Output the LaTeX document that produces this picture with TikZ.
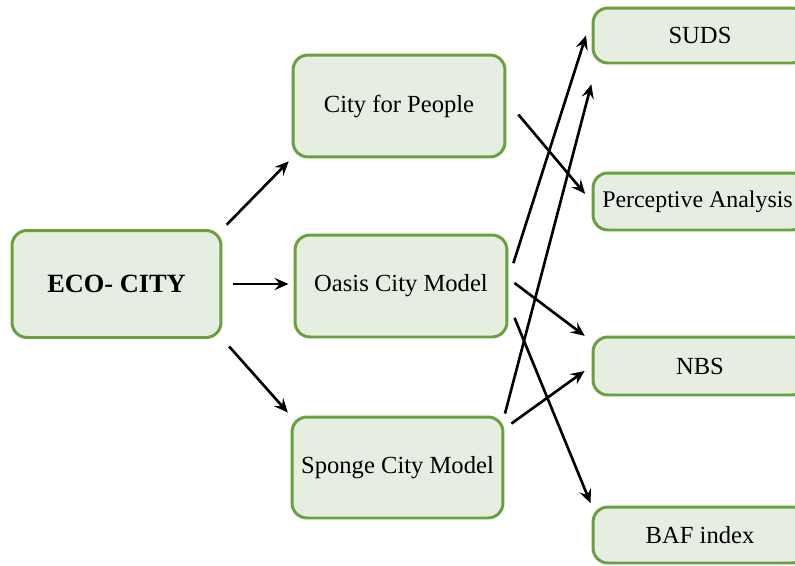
\documentclass[tikz,border=0pt]{standalone}
\usepackage{fontspec}
\setmainfont{Liberation Serif}
\usetikzlibrary{arrows.meta}

\definecolor{boxfill}{RGB}{229,238,225}
\definecolor{boxline}{RGB}{106,160,62}

\begin{document}
\begin{tikzpicture}[x=0.02cm, y=-0.02cm,
		cityBox/.style={draw=boxline, fill=boxfill, line width=1.7pt, rounded corners=0.3cm, font=\fontsize{14}{16}\selectfont},
		link/.style={-{Stealth[length=8pt,width=7pt,inset=3pt]}, line width=1.5pt}]

				\useasboundingbox (0, 0) rectangle (795, 565);
				\clip (0, 0) rectangle (795, 565);

				\node [cityBox, minimum width=4.18cm, minimum height=2.14cm, font=\fontsize{15}{17}\selectfont\bfseries] (eco) at (116.5, 284) {ECO- CITY};

				\node [cityBox, minimum width=4.24cm, minimum height=2.04cm] (people) at (399, 106) {City for People};
				\node [cityBox, minimum width=4.24cm, minimum height=2.04cm] (oasis) at (401, 286) {Oasis City Model};
				\node [cityBox, minimum width=4.22cm, minimum height=2.02cm] (sponge) at (397.5, 467.5) {Sponge City Model};

				%------
				\node [cityBox, minimum width=4.28cm, minimum height=1.1cm] (suds) at (700, 35.5) {SUDS};
				\node [cityBox, minimum width=4.28cm, minimum height=1.14cm, font=\fontsize{13.6}{16}\selectfont] (perc) at (700, 201.5) {\hspace*{-0.1cm}Perceptive Analysis};
				\node [cityBox, minimum width=4.28cm, minimum height=1.16cm] (nbs) at (700, 366) {NBS};
				\node [cityBox, minimum width=4.28cm, minimum height=1.12cm] (baf) at (700, 535) {BAF index};

				\draw [link, shorten <=0.12cm, shorten >=0.08cm] (eco.north east) -- (people.south west);
				\draw [link, shorten <=0.22cm, shorten >=0.1cm] (eco.east) -- (eco.east -| oasis.west);
				\draw [link, shorten <=0.2cm, shorten >=0.08cm] (eco.south east) -- (sponge.north west);

				\draw [link, shorten <=0.37cm, shorten >=0.2cm] (people.3) -- (perc.west);
				\draw [link, shorten <=0.32cm, shorten >=0.36cm] (oasis.4) -- (suds.171);
				\draw [link, shorten <=0.15cm, shorten >=0.17cm] (oasis.4) -- (nbs.167);
				\draw [link, shorten <=0.32cm, shorten >=0.05cm] (oasis.-9) -- (baf.north west);
				\draw [link, shorten <=0.04cm, shorten >=0.41cm] (sponge.north east) -- ([xshift=0.1cm]suds.south west);
				\draw [link, shorten <=0.17cm, shorten >=0.17cm] (sponge.20) -- (nbs.west);
		\end{tikzpicture}
\end{document}
